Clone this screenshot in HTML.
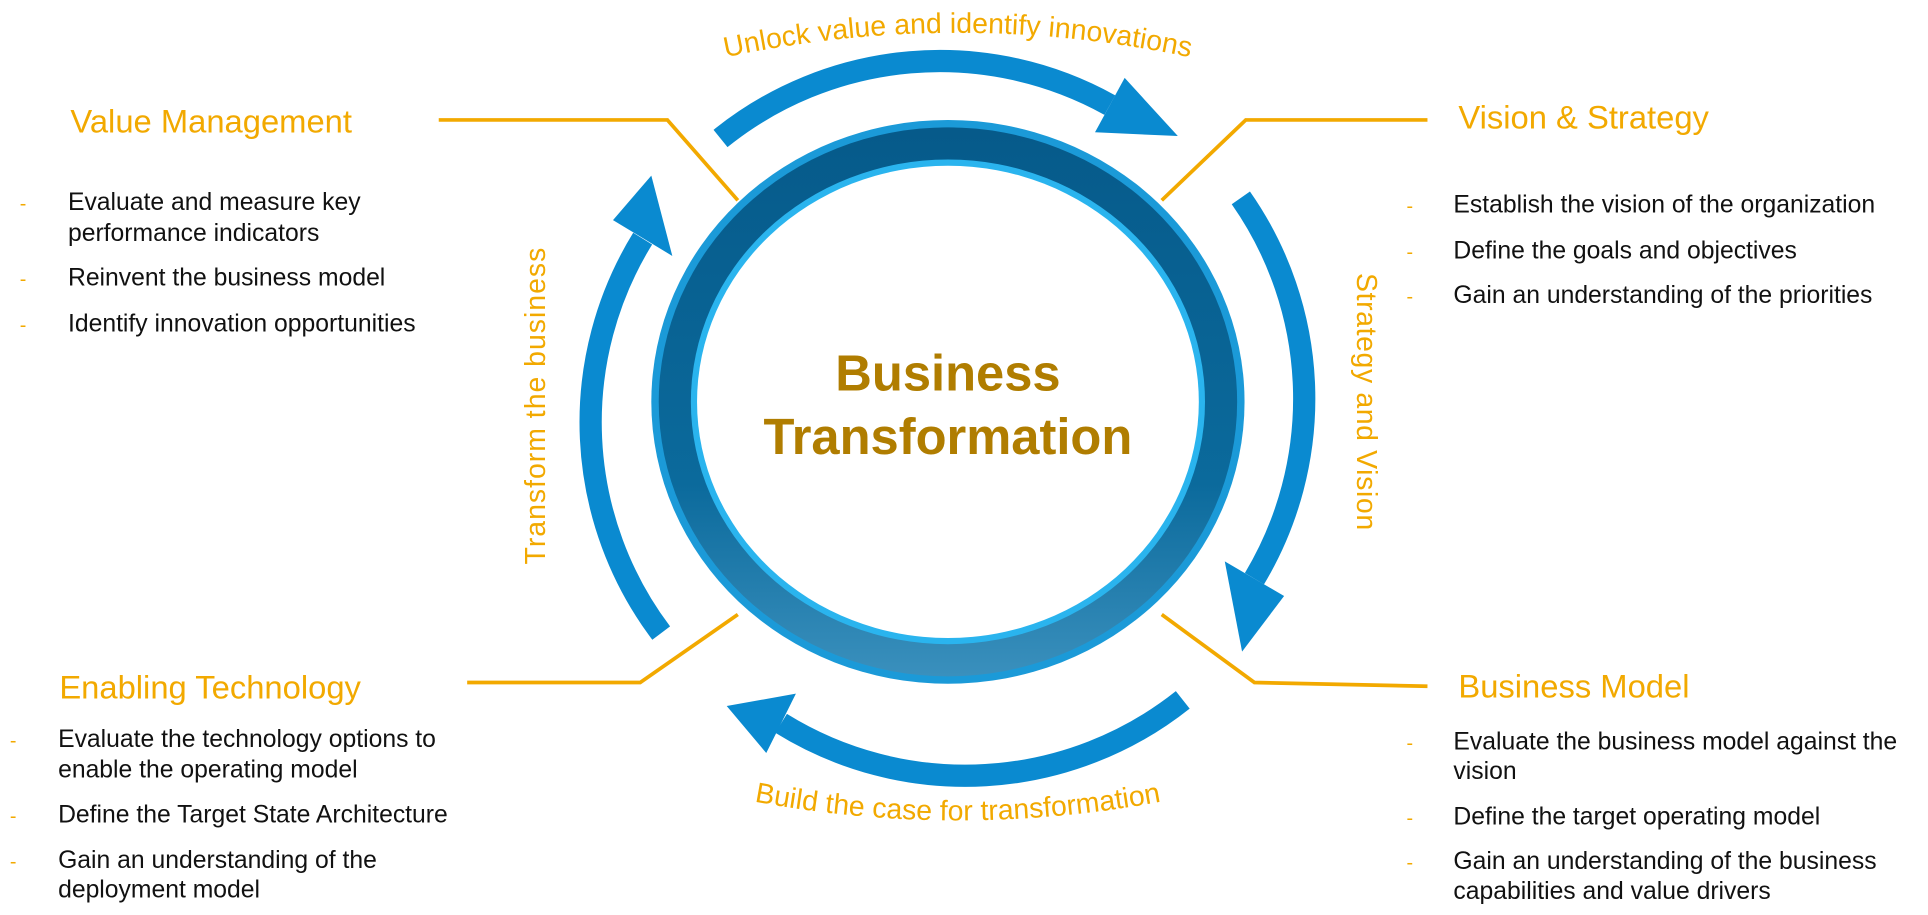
<!DOCTYPE html>
<html><head><meta charset="utf-8"><style>
html,body{margin:0;padding:0;background:#fff;}
svg{display:block;}
.h{font-family:"Liberation Sans",sans-serif;font-size:26.5px;fill:#f2a900;}
.b{font-family:"Liberation Sans",sans-serif;font-size:20px;fill:#111;}
.d{font-family:"Liberation Sans",sans-serif;font-size:16px;fill:#f2a900;}
.a{font-family:"Liberation Sans",sans-serif;font-size:23px;fill:#f2a900;}
.c{font-family:"Liberation Sans",sans-serif;font-size:41px;font-weight:bold;fill:#b07d00;}
</style></head><body>
<svg width="1928" height="915" viewBox="0 0 1560 740" preserveAspectRatio="none" xmlns="http://www.w3.org/2000/svg">
<defs>
<linearGradient id="rg" x1="0" y1="0" x2="0" y2="1">
<stop offset="0" stop-color="#065a8a"/><stop offset="0.65" stop-color="#0b6a9c"/><stop offset="1" stop-color="#3a90bd"/>
</linearGradient>
<path id="pt" d="M 475 78 A 900 900 0 0 1 1075 78"/>
<path id="pb" d="M 475 612 A 900 900 0 0 0 1075 612"/>
</defs>
<g stroke="#f2a900" fill="none" stroke-width="3">
<polyline points="355,97 540,97 597,162"/>
<polyline points="1155,97 1008,97 940,162"/>
<polyline points="378,552 518,552 597,497"/>
<polyline points="1155,555 1015,552 940,497"/>
</g>
<ellipse cx="767" cy="325" rx="240" ry="228" fill="#1b9ad8"/>
<ellipse cx="767" cy="325" rx="234" ry="222" fill="url(#rg)"/>
<ellipse cx="767" cy="325" rx="208" ry="196" fill="#2ab4ee"/>
<ellipse cx="767" cy="325" rx="203" ry="191" fill="#fff"/>
<g stroke="#0a8ad0" stroke-width="18" fill="none">
<path d="M 583 112 A 283 283 0 0 1 898 85"/>
<path d="M 1004 160 A 283 283 0 0 1 1015 468"/>
<path d="M 957 566 A 283 283 0 0 1 632 585"/>
<path d="M 535 512 A 283 283 0 0 1 520 193"/>
</g>
<g fill="#0a8ad0">
<polygon points="910,63 886,107 953,110"/>
<polygon points="1039,482 991,454 1005,527"/>
<polygon points="620,609 644,561 588,571"/>
<polygon points="496,178 544,207 527,142"/>
</g>
<text class="a"><textPath href="#pt" startOffset="50%" text-anchor="middle">Unlock value and identify innovations</textPath></text>
<text class="a"><textPath href="#pb" startOffset="50%" text-anchor="middle">Build the case for transformation</textPath></text>
<text class="a" letter-spacing="0.8" transform="translate(441,328) rotate(-90)" text-anchor="middle">Transform the business</text>
<text class="a" letter-spacing="0.5" transform="translate(1098,325) rotate(90)" text-anchor="middle">Strategy and Vision</text>
<text class="c" x="767" y="316" text-anchor="middle">Business</text>
<text class="c" x="767" y="367" text-anchor="middle">Transformation</text>
<text class="h" x="57" y="107">Value Management</text>
<text class="h" x="1180" y="104">Vision &amp; Strategy</text>
<text class="h" x="48" y="565">Enabling Technology</text>
<text class="h" x="1180" y="564">Business Model</text>
<text class="d" x="16" y="170">-</text><text class="b" x="55" y="170">Evaluate and measure key</text>
<text class="b" x="55" y="195">performance indicators</text>
<text class="d" x="16" y="231">-</text><text class="b" x="55" y="231">Reinvent the business model</text>
<text class="d" x="16" y="268">-</text><text class="b" x="55" y="268">Identify innovation opportunities</text>
<text class="d" x="1138" y="172">-</text><text class="b" x="1176" y="172">Establish the vision of the organization</text>
<text class="d" x="1138" y="209">-</text><text class="b" x="1176" y="209">Define the goals and objectives</text>
<text class="d" x="1138" y="245">-</text><text class="b" x="1176" y="245">Gain an understanding of the priorities</text>
<text class="d" x="8" y="604">-</text><text class="b" x="47" y="604">Evaluate the technology options to</text>
<text class="b" x="47" y="629">enable the operating model</text>
<text class="d" x="8" y="665">-</text><text class="b" x="47" y="665">Define the Target State Architecture</text>
<text class="d" x="8" y="702">-</text><text class="b" x="47" y="702">Gain an understanding of the</text>
<text class="b" x="47" y="726">deployment model</text>
<text class="d" x="1138" y="606">-</text><text class="b" x="1176" y="606">Evaluate the business model against the</text>
<text class="b" x="1176" y="630">vision</text>
<text class="d" x="1138" y="667">-</text><text class="b" x="1176" y="667">Define the target operating model</text>
<text class="d" x="1138" y="703">-</text><text class="b" x="1176" y="703">Gain an understanding of the business</text>
<text class="b" x="1176" y="727">capabilities and value drivers</text>
</svg>
</body></html>
